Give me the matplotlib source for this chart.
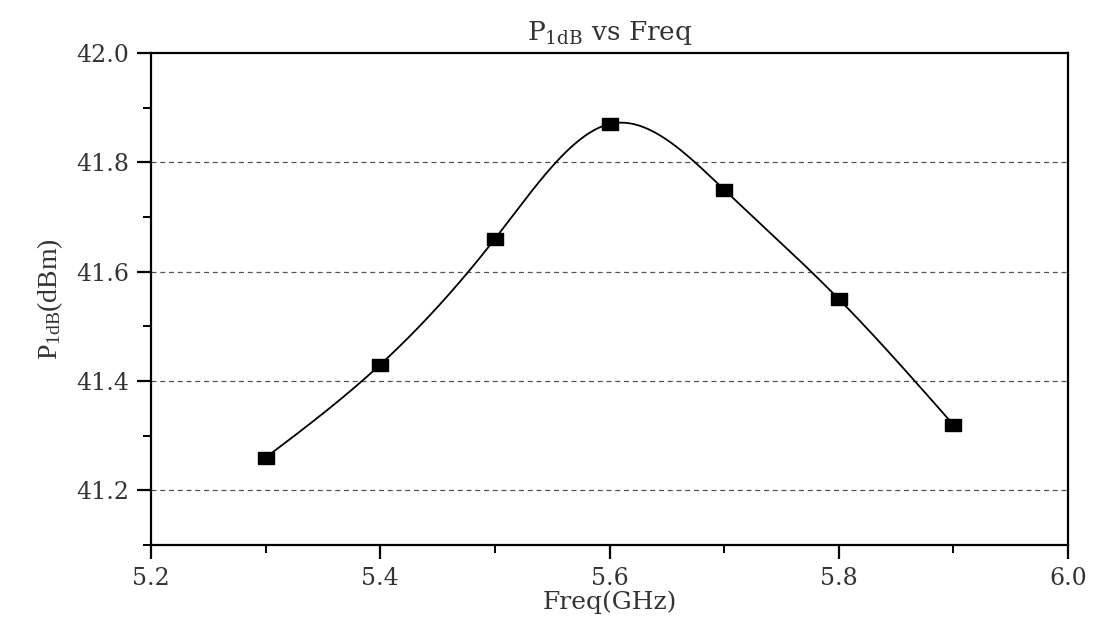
import numpy as np
import matplotlib
matplotlib.use("Agg")
import matplotlib.pyplot as plt
from matplotlib.ticker import MultipleLocator

# dati
freq = [5.3, 5.4, 5.5, 5.6, 5.7, 5.8, 5.9]
p1db = [41.26, 41.43, 41.66, 41.87, 41.75, 41.55, 41.32]
x_ticks = [5.2, 5.4, 5.6, 5.8, 6.0]
y_ticks = [41.2, 41.4, 41.6, 41.8, 42.0]


# spline cubica naturale per disegnare la curva liscia tra i punti
def natural_spline(x, y, n=400):
    x = np.asarray(x, float)
    y = np.asarray(y, float)
    k = len(x)
    h = np.diff(x)
    A = np.zeros((k, k))
    b = np.zeros(k)
    A[0, 0] = A[-1, -1] = 1.0
    for i in range(1, k - 1):
        A[i, i - 1] = h[i - 1]
        A[i, i] = 2 * (h[i - 1] + h[i])
        A[i, i + 1] = h[i]
        b[i] = 3 * ((y[i + 1] - y[i]) / h[i] - (y[i] - y[i - 1]) / h[i - 1])
    c = np.linalg.solve(A, b)
    xs = np.linspace(x[0], x[-1], n)
    ys = np.empty_like(xs)
    for j, xv in enumerate(xs):
        i = min(np.searchsorted(x, xv, side="right") - 1, k - 2)
        dx = xv - x[i]
        bi = (y[i + 1] - y[i]) / h[i] - h[i] * (2 * c[i] + c[i + 1]) / 3
        di = (c[i + 1] - c[i]) / (3 * h[i])
        ys[j] = y[i] + bi * dx + c[i] * dx ** 2 + di * dx ** 3
    return xs, ys


plt.rcParams["font.family"] = ["DejaVu Serif"]
plt.rcParams["mathtext.fontset"] = "custom"
plt.rcParams["mathtext.rm"] = "DejaVu Serif"
plt.rcParams["mathtext.sf"] = "Liberation Serif"

fig = plt.figure(figsize=(10.95, 6.19), dpi=100)
ax = fig.add_axes([0.138, 0.1195, 0.8373, 0.795])

xs, ys = natural_spline(freq, p1db)
ax.plot(xs, ys, color="black", linewidth=1.3, zorder=3)
# marker rettangolare, piu largo che alto
rect = [(-1.5, -1), (1.5, -1), (1.5, 1), (-1.5, 1), (-1.5, -1)]
ax.plot(freq, p1db, linestyle="none", marker=rect, color="black",
        markersize=12, zorder=4)

ax.set_xlim(5.2, 6.0)
ax.set_ylim(41.1, 42.0)
ax.set_xticks(x_ticks)
ax.set_yticks(y_ticks)
ax.set_xticklabels([f"{v:.1f}" for v in x_ticks])
ax.set_yticklabels([f"{v:.1f}" for v in y_ticks])
ax.xaxis.set_minor_locator(MultipleLocator(0.1))
ax.yaxis.set_minor_locator(MultipleLocator(0.1))

for v in y_ticks[:-1]:
    ax.axhline(v, color="#555555", linestyle=(0, (4, 3)), linewidth=0.9, zorder=1)

for s in ax.spines.values():
    s.set_linewidth(1.6)
ax.tick_params(which="major", direction="out", length=10, width=1.6,
               labelsize=17, pad=6, colors="black")
ax.tick_params(which="minor", direction="out", length=6, width=1.4)
ax.tick_params(top=False, right=False, which="both")
for lab in ax.get_xticklabels() + ax.get_yticklabels():
    lab.set_color("#333333")

ax.set_xlabel("Freq(GHz)", fontsize=18, color="#333333", labelpad=0)
ax.set_ylabel(r"$\mathsf{P_{1dB}(dBm)}$", fontsize=20, color="#333333", labelpad=8)
ax.set_title(r"$\mathrm{P_{1dB}}$ vs Freq", fontsize=19, color="#333333", pad=9)

fig.savefig("out.png", dpi=100)
